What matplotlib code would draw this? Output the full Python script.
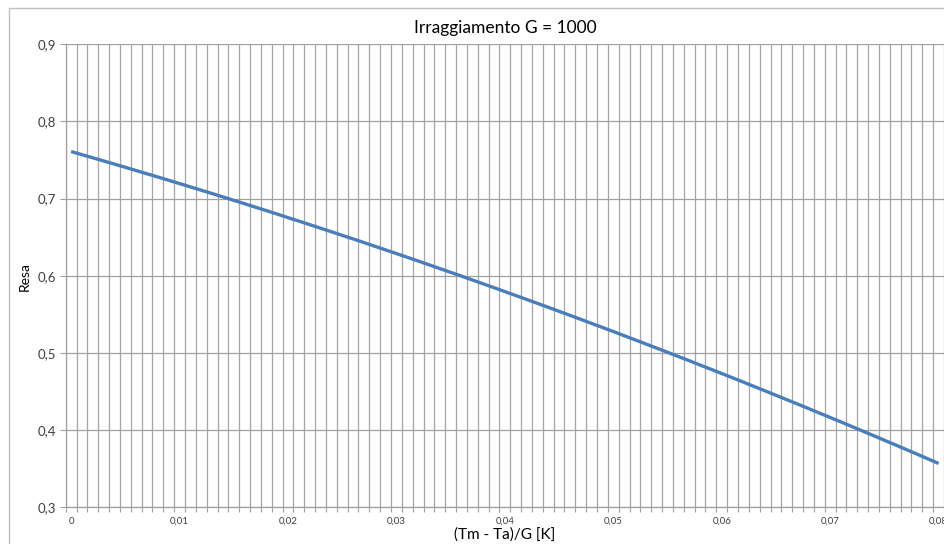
import matplotlib.pyplot as plt
from matplotlib.patches import Rectangle

# --- DATA ---
x_labels = ["0", "0,01", "0,02", "0,03", "0,04", "0,05", "0,06", "0,07", "0,08"]
resa = [
    0.7610, 0.7570, 0.7529, 0.7488, 0.7447, 0.7406, 0.7364, 0.7322, 0.7280, 0.7238,
    0.7195, 0.7152, 0.7109, 0.7066, 0.7022, 0.6978, 0.6934, 0.6889, 0.6845, 0.6800,
    0.6754, 0.6709, 0.6663, 0.6617, 0.6571, 0.6524, 0.6478, 0.6431, 0.6383, 0.6336,
    0.6288, 0.6240, 0.6192, 0.6143, 0.6094, 0.6045, 0.5996, 0.5946, 0.5896, 0.5846,
    0.5796, 0.5745, 0.5694, 0.5643, 0.5592, 0.5540, 0.5488, 0.5436, 0.5383, 0.5331,
    0.5278, 0.5224, 0.5171, 0.5117, 0.5063, 0.5009, 0.4954, 0.4900, 0.4844, 0.4789,
    0.4734, 0.4678, 0.4622, 0.4565, 0.4509, 0.4452, 0.4395, 0.4338, 0.4280, 0.4222,
    0.4164, 0.4106, 0.4047, 0.3988, 0.3929, 0.3869, 0.3810, 0.3750, 0.3690, 0.3629,
    0.3568,
]
y_ticks = [0.3, 0.4, 0.5, 0.6, 0.7, 0.8, 0.9]

plt.rcParams['font.family'] = ['Lato', 'DejaVu Sans']

W, H = 945, 544
fig = plt.figure(figsize=(W / 100, H / 100), dpi=100)

# chart area border (Excel style)
fig.patches.append(Rectangle((9 / W, -0.1), 1.2, 1 - 8 / H + 0.1, transform=fig.transFigure,
                             fill=False, edgecolor='#bfbfbf', lw=1.0))

left, right, top, bottom = 65.7, 944, 44.3, 507.3
ax = fig.add_axes([left / W, 1 - bottom / H, (right - left) / W, (bottom - top) / H])

n = len(resa)
cat = list(range(n))
ax.plot(cat, resa, color='#4a7ebb', lw=2.4, solid_capstyle='butt')

ax.set_xlim(-0.5, n - 0.5)
ax.set_ylim(0.3, 0.9)

# category boundaries: tick marks and vertical gridlines
ax.set_xticks([k - 0.5 for k in range(n + 1)], minor=True)
ax.set_xticks(list(range(0, n, 10)))
ax.set_xticklabels(x_labels, fontsize=7, color='#404040')
ax.tick_params(axis='x', which='major', length=0, pad=7)
ax.tick_params(axis='x', which='minor', length=3.5, width=0.8, color='#a0a0a0')
ax.grid(True, axis='x', which='minor', color='#a6a6a6', lw=0.9)

ax.set_yticks(y_ticks)
ax.set_yticklabels([f"{v:.1f}".replace('.', ',') for v in y_ticks], fontsize=9.5, color='#404040')
ax.tick_params(axis='y', length=4, width=0.8, color='#a0a0a0', pad=3)
ax.grid(True, axis='y', color='#a0a0a0', lw=0.9)
ax.set_axisbelow(True)

for side in ['top', 'right']:
    ax.spines[side].set_visible(False)
ax.spines['left'].set_color('#a0a0a0')
ax.spines['bottom'].set_color('#a0a0a0')
ax.spines['left'].set_linewidth(0.9)
ax.spines['bottom'].set_linewidth(0.9)

fig.text((left + right) / 2 / W, 1 - 28 / H, "Irraggiamento G = 1000",
         ha='center', va='center', fontsize=12.5, color='#000000')
fig.text((left + right) / 2 / W, 1 - 535 / H, "(Tm - Ta)/G [K]",
         ha='center', va='center', fontsize=11, color='#000000')
fig.text(25 / W, 1 - 277 / H, "Resa", rotation=90,
         ha='center', va='center', fontsize=10, color='#000000')

fig.savefig("out.png", dpi=100)
